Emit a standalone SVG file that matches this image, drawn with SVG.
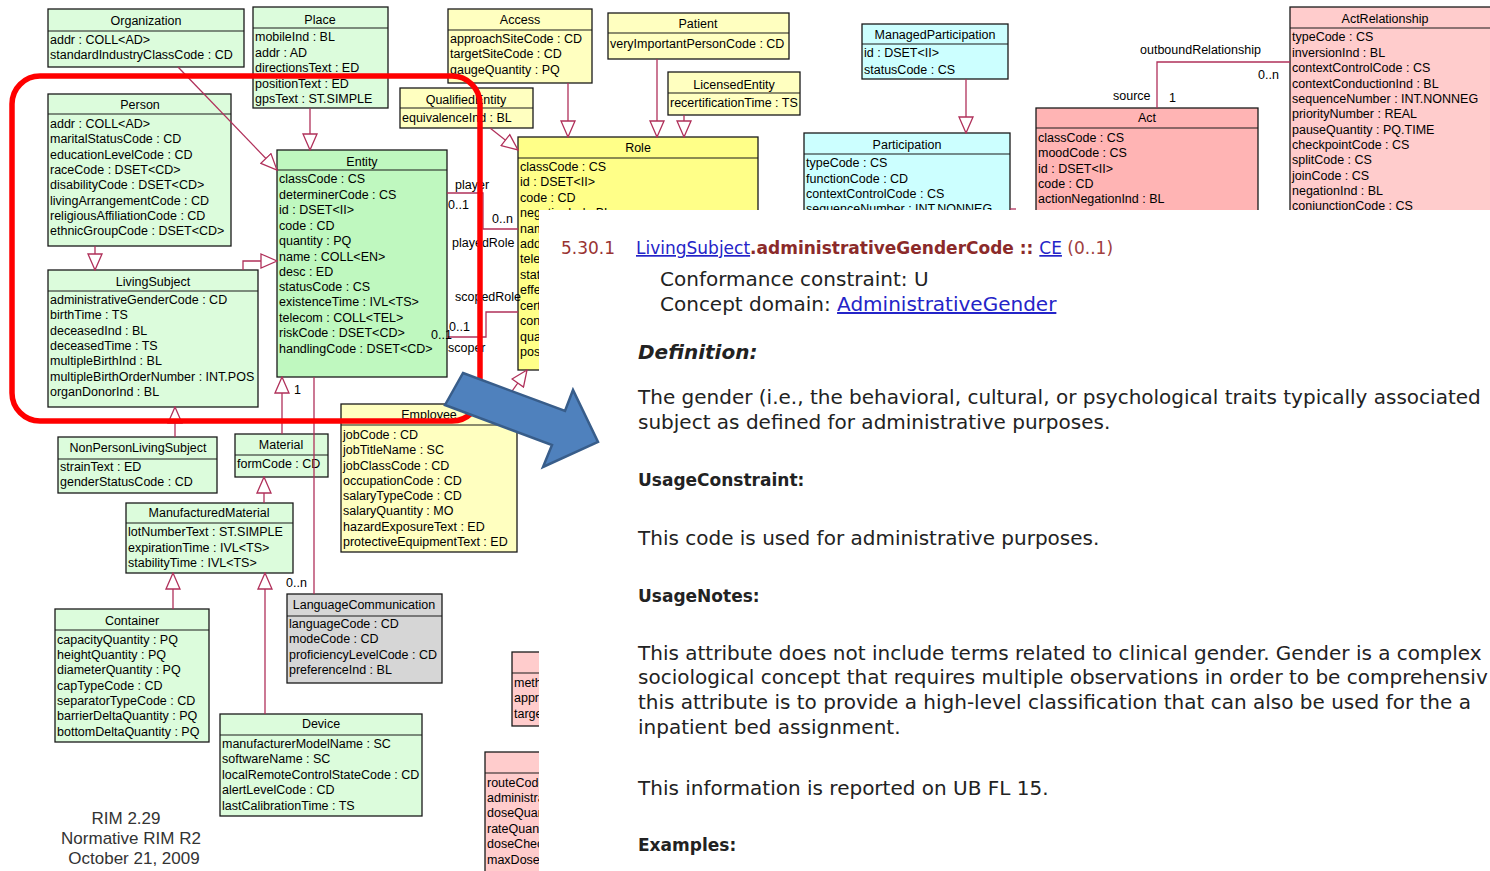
<svg xmlns="http://www.w3.org/2000/svg" width="1490" height="871" viewBox="0 0 1490 871">
<style>
.b{stroke:#1a1a1a;stroke-width:1.3}
.s{stroke:#1a1a1a;stroke-width:1.2;fill:none}
.t{font-family:"Liberation Sans",Arial,sans-serif;font-size:12.5px;fill:#000}
.h{text-anchor:middle}
.gl{fill:#dcfcdc}.ge{fill:#bff8bf}.yl{fill:#ffffc0}.yr{fill:#ffff88}.cl{fill:#ccffff}.pl{fill:#ffcccc}.pa{fill:#ffb4b4}.gr{fill:#d6d6d6}
.c{stroke:#b0305a;stroke-width:1.3;fill:none}
.lab{font-family:"Liberation Sans",Arial,sans-serif;font-size:12.5px;fill:#000}
.p{font-family:"DejaVu Sans",Verdana,sans-serif;font-size:20px;fill:#222}
.pb{font-family:"DejaVu Sans",Verdana,sans-serif;font-size:17px;font-weight:bold;fill:#222}
.lk{fill:#2424c8;text-decoration:underline;font-weight:normal}
.rim{font-family:"Liberation Sans",Arial,sans-serif;font-size:17px;fill:#333;text-anchor:middle}
</style>
<defs>
<marker id="gen" viewBox="0 0 18 16" refX="17" refY="8" markerWidth="18" markerHeight="16" markerUnits="userSpaceOnUse" orient="auto">
<path d="M1,1 L17,8 L1,15 Z" fill="#fff" stroke="#b0305a" stroke-width="1.3"/>
</marker>
<clipPath id="vis"><path d="M0,0 H1490 V210 H539 V871 H0 Z"/></clipPath>
</defs>
<rect width="1490" height="871" fill="#fff"/>
<g clip-path="url(#vis)">
<g id="organization"><rect class="b gl" x="48" y="9" width="196" height="58"/><path class="s" d="M48,31 H244"/>
<text class="t h" x="146" y="25">Organization</text>
<text class="t" x="50" y="44">addr : COLL&lt;AD&gt;</text><text class="t" x="50" y="59">standardIndustryClassCode : CD</text></g>

<g id="place"><rect class="b gl" x="253" y="7" width="135" height="101"/><path class="s" d="M253,28 H388"/>
<text class="t h" x="320" y="24">Place</text>
<text class="t" x="255" y="41">mobileInd : BL</text><text class="t" x="255" y="57">addr : AD</text><text class="t" x="255" y="72">directionsText : ED</text><text class="t" x="255" y="88">positionText : ED</text><text class="t" x="255" y="103">gpsText : ST.SIMPLE</text></g>

<g id="access"><rect class="b yl" x="448" y="9" width="144" height="74"/><path class="s" d="M448,30 H592"/>
<text class="t h" x="520" y="24">Access</text>
<text class="t" x="450" y="43">approachSiteCode : CD</text><text class="t" x="450" y="58">targetSiteCode : CD</text><text class="t" x="450" y="74">gaugeQuantity : PQ</text></g>

<g id="patient"><rect class="b yl" x="608" y="13" width="181" height="46"/><path class="s" d="M608,33 H789"/>
<text class="t h" x="698" y="28">Patient</text>
<text class="t" x="610" y="48">veryImportantPersonCode : CD</text></g>

<g id="qualifiedEntity"><rect class="b yl" x="400" y="88" width="133" height="40"/><path class="s" d="M400,108 H533"/>
<text class="t h" x="466" y="104">QualifiedEntity</text>
<text class="t" x="402" y="122">equivalenceInd : BL</text></g>

<g id="licensedEntity"><rect class="b yl" x="668" y="72" width="132" height="43"/><path class="s" d="M668,93 H800"/>
<text class="t h" x="734" y="89">LicensedEntity</text>
<text class="t" x="670" y="107">recertificationTime : TS</text></g>

<g id="managedParticipation"><rect class="b cl" x="862" y="24" width="146" height="55"/><path class="s" d="M862,44 H1008"/>
<text class="t h" x="935" y="39">ManagedParticipation</text>
<text class="t" x="864" y="57">id : DSET&lt;II&gt;</text><text class="t" x="864" y="74">statusCode : CS</text></g>

<g id="participation"><rect class="b cl" x="804" y="133" width="206" height="100"/><path class="s" d="M804,154 H1010"/>
<text class="t h" x="907" y="149">Participation</text>
<text class="t" x="806" y="167">typeCode : CS</text><text class="t" x="806" y="183">functionCode : CD</text><text class="t" x="806" y="198">contextControlCode : CS</text><text class="t" x="806" y="213">sequenceNumber : INT.NONNEG</text></g>

<g id="act"><rect class="b pa" x="1036" y="108" width="222" height="120"/><path class="s" d="M1036,128 H1258"/>
<text class="t h" x="1147" y="122">Act</text>
<text class="t" x="1038" y="142">classCode : CS</text><text class="t" x="1038" y="157">moodCode : CS</text><text class="t" x="1038" y="173">id : DSET&lt;II&gt;</text><text class="t" x="1038" y="188">code : CD</text><text class="t" x="1038" y="203">actionNegationInd : BL</text></g>

<g id="actRelationship"><rect class="b pl" x="1290" y="7" width="220" height="220"/><path class="s" d="M1290,28 H1490"/>
<text class="t h" x="1385" y="23">ActRelationship</text>
<text class="t" x="1292" y="41">typeCode : CS</text><text class="t" x="1292" y="57">inversionInd : BL</text><text class="t" x="1292" y="72">contextControlCode : CS</text><text class="t" x="1292" y="88">contextConductionInd : BL</text><text class="t" x="1292" y="103">sequenceNumber : INT.NONNEG</text><text class="t" x="1292" y="118">priorityNumber : REAL</text><text class="t" x="1292" y="134">pauseQuantity : PQ.TIME</text><text class="t" x="1292" y="149">checkpointCode : CS</text><text class="t" x="1292" y="164">splitCode : CS</text><text class="t" x="1292" y="180">joinCode : CS</text><text class="t" x="1292" y="195">negationInd : BL</text><text class="t" x="1292" y="210">conjunctionCode : CS</text></g>

<g id="role"><rect class="b yr" x="518" y="137" width="240" height="233"/><path class="s" d="M518,158 H758"/>
<text class="t h" x="638" y="152">Role</text>
<text class="t" x="520" y="171">classCode : CS</text><text class="t" x="520" y="186">id : DSET&lt;II&gt;</text><text class="t" x="520" y="202">code : CD</text><text class="t" x="520" y="217">negationInd : BL</text><text class="t" x="520" y="233">name</text><text class="t" x="520" y="248">addr</text><text class="t" x="520" y="263">telecom</text><text class="t" x="520" y="279">statusCode</text><text class="t" x="520" y="294">effectiveTime</text><text class="t" x="520" y="310">certificateText</text><text class="t" x="520" y="325">confidentialityCode</text><text class="t" x="520" y="341">quantity</text><text class="t" x="520" y="356">positionNumber</text></g>

<g id="entity"><rect class="b ge" x="277" y="150" width="170" height="227"/><path class="s" d="M277,170 H447"/>
<text class="t h" x="362" y="166">Entity</text>
<text class="t" x="279" y="183">classCode : CS</text><text class="t" x="279" y="199">determinerCode : CS</text><text class="t" x="279" y="214">id : DSET&lt;II&gt;</text><text class="t" x="279" y="230">code : CD</text><text class="t" x="279" y="245">quantity : PQ</text><text class="t" x="279" y="261">name : COLL&lt;EN&gt;</text><text class="t" x="279" y="276">desc : ED</text><text class="t" x="279" y="291">statusCode : CS</text><text class="t" x="279" y="306">existenceTime : IVL&lt;TS&gt;</text><text class="t" x="279" y="322">telecom : COLL&lt;TEL&gt;</text><text class="t" x="279" y="337">riskCode : DSET&lt;CD&gt;</text><text class="t" x="279" y="353">handlingCode : DSET&lt;CD&gt;</text></g>

<g id="person"><rect class="b gl" x="48" y="94" width="183" height="152"/><path class="s" d="M48,114 H231"/>
<text class="t h" x="140" y="109">Person</text>
<text class="t" x="50" y="128">addr : COLL&lt;AD&gt;</text><text class="t" x="50" y="143">maritalStatusCode : CD</text><text class="t" x="50" y="159">educationLevelCode : CD</text><text class="t" x="50" y="174">raceCode : DSET&lt;CD&gt;</text><text class="t" x="50" y="189">disabilityCode : DSET&lt;CD&gt;</text><text class="t" x="50" y="205">livingArrangementCode : CD</text><text class="t" x="50" y="220">religiousAffiliationCode : CD</text><text class="t" x="50" y="235">ethnicGroupCode : DSET&lt;CD&gt;</text></g>

<g id="livingSubject"><rect class="b gl" x="48" y="270" width="210" height="137"/><path class="s" d="M48,291 H258"/>
<text class="t h" x="153" y="286">LivingSubject</text>
<text class="t" x="50" y="304">administrativeGenderCode : CD</text><text class="t" x="50" y="319">birthTime : TS</text><text class="t" x="50" y="335">deceasedInd : BL</text><text class="t" x="50" y="350">deceasedTime : TS</text><text class="t" x="50" y="365">multipleBirthInd : BL</text><text class="t" x="50" y="381">multipleBirthOrderNumber : INT.POS</text><text class="t" x="50" y="396">organDonorInd : BL</text></g>

<g id="nonPersonLivingSubject"><rect class="b gl" x="58" y="437" width="159" height="56"/><path class="s" d="M58,459 H217"/>
<text class="t h" x="138" y="452">NonPersonLivingSubject</text>
<text class="t" x="60" y="471">strainText : ED</text><text class="t" x="60" y="486">genderStatusCode : CD</text></g>

<g id="material"><rect class="b gl" x="235" y="434" width="93" height="43"/><path class="s" d="M235,455 H328"/>
<text class="t h" x="281" y="449">Material</text>
<text class="t" x="237" y="468">formCode : CD</text></g>

<g id="employee"><rect class="b yl" x="341" y="404" width="176" height="148"/><path class="s" d="M341,425 H517"/>
<text class="t h" x="429" y="419">Employee</text>
<text class="t" x="343" y="439">jobCode : CD</text><text class="t" x="343" y="454">jobTitleName : SC</text><text class="t" x="343" y="470">jobClassCode : CD</text><text class="t" x="343" y="485">occupationCode : CD</text><text class="t" x="343" y="500">salaryTypeCode : CD</text><text class="t" x="343" y="515">salaryQuantity : MO</text><text class="t" x="343" y="531">hazardExposureText : ED</text><text class="t" x="343" y="546">protectiveEquipmentText : ED</text></g>

<g id="manufacturedMaterial"><rect class="b gl" x="126" y="503" width="167" height="70"/><path class="s" d="M126,523 H293"/>
<text class="t h" x="209" y="517">ManufacturedMaterial</text>
<text class="t" x="128" y="536">lotNumberText : ST.SIMPLE</text><text class="t" x="128" y="552">expirationTime : IVL&lt;TS&gt;</text><text class="t" x="128" y="567">stabilityTime : IVL&lt;TS&gt;</text></g>

<g id="container"><rect class="b gl" x="55" y="609" width="154" height="133"/><path class="s" d="M55,630 H209"/>
<text class="t h" x="132" y="625">Container</text>
<text class="t" x="57" y="644">capacityQuantity : PQ</text><text class="t" x="57" y="659">heightQuantity : PQ</text><text class="t" x="57" y="674">diameterQuantity : PQ</text><text class="t" x="57" y="690">capTypeCode : CD</text><text class="t" x="57" y="705">separatorTypeCode : CD</text><text class="t" x="57" y="720">barrierDeltaQuantity : PQ</text><text class="t" x="57" y="736">bottomDeltaQuantity : PQ</text></g>

<g id="languageCommunication"><rect class="b gr" x="287" y="594" width="155" height="89"/><path class="s" d="M287,616 H442"/>
<text class="t h" x="364" y="609">LanguageCommunication</text>
<text class="t" x="289" y="628">languageCode : CD</text><text class="t" x="289" y="643">modeCode : CD</text><text class="t" x="289" y="659">proficiencyLevelCode : CD</text><text class="t" x="289" y="674">preferenceInd : BL</text></g>

<g id="device"><rect class="b gl" x="220" y="714" width="202" height="102"/><path class="s" d="M220,735 H422"/>
<text class="t h" x="321" y="728">Device</text>
<text class="t" x="222" y="748">manufacturerModelName : SC</text><text class="t" x="222" y="763">softwareName : SC</text><text class="t" x="222" y="779">localRemoteControlStateCode : CD</text><text class="t" x="222" y="794">alertLevelCode : CD</text><text class="t" x="222" y="810">lastCalibrationTime : TS</text></g>

<g id="procedure"><rect class="b pl" x="512" y="652" width="100" height="74"/><path class="s" d="M512,673 H612"/>
<text class="t" x="514" y="687">method</text><text class="t" x="514" y="702">approach</text><text class="t" x="514" y="718">target</text></g>

<g id="substanceAdministration"><rect class="b pl" x="485" y="752" width="120" height="130"/><path class="s" d="M485,773 H605"/>
<text class="t" x="487" y="787">routeCode</text><text class="t" x="487" y="802">administration</text><text class="t" x="487" y="817">doseQuantity</text><text class="t" x="487" y="833">rateQuantity</text><text class="t" x="487" y="848">doseCheck</text><text class="t" x="487" y="864">maxDose</text></g>

<g id="connectors">
<path class="c" d="M178,67 L277,170" marker-end="url(#gen)"/>
<path class="c" d="M310,108 V150" marker-end="url(#gen)"/>
<path class="c" d="M95,246 V270" marker-end="url(#gen)"/>
<path class="c" d="M243,270 V261 H277" marker-end="url(#gen)"/>
<path class="c" d="M175,437 V407" marker-end="url(#gen)"/>
<path class="c" d="M282,434 V377" marker-end="url(#gen)"/>
<path class="c" d="M264,503 V477" marker-end="url(#gen)"/>
<path class="c" d="M173,609 V573" marker-end="url(#gen)"/>
<path class="c" d="M265,714 V573" marker-end="url(#gen)"/>
<path class="c" d="M314,377 V594"/>
<path class="c" d="M490,128 L518,150" marker-end="url(#gen)"/>
<path class="c" d="M568,83 V137" marker-end="url(#gen)"/>
<path class="c" d="M657,59 V137" marker-end="url(#gen)"/>
<path class="c" d="M684,115 V137" marker-end="url(#gen)"/>
<path class="c" d="M447,193 H483 V229 H518"/>
<path class="c" d="M447,337 H486 V312 H518"/>
<path class="c" d="M503,404 L527,370" marker-end="url(#gen)"/>
<path class="c" d="M966,79 V133" marker-end="url(#gen)"/>
<path class="c" d="M1157,108 V62 H1290"/>
<path class="c" d="M1010,209 H1016"/>
<text class="lab" x="455" y="189">player</text>
<text class="lab" x="448" y="209">0..1</text>
<text class="lab" x="492" y="223">0..n</text>
<text class="lab" x="452" y="247">playedRole</text>
<text class="lab" x="455" y="301">scopedRole</text>
<text class="lab" x="449" y="331">0..1</text>
<text class="lab" x="431" y="339">0..1</text>
<text class="lab" x="448" y="352">scoper</text>
<text class="lab" x="294" y="394">1</text>
<text class="lab" x="286" y="587">0..n</text>
<text class="lab" x="1140" y="54">outboundRelationship</text>
<text class="lab" x="1258" y="79">0..n</text>
<text class="lab" x="1113" y="100">source</text>
<text class="lab" x="1169" y="102">1</text>
</g>
</g>

<rect id="highlight" x="12" y="76" width="468" height="345" rx="28" ry="28" fill="none" stroke="#ff0000" stroke-width="5.5"/>

<g id="rim-label">
<text class="rim" x="126" y="824">RIM 2.29</text>
<text class="rim" x="131" y="844">Normative RIM R2</text>
<text class="rim" x="134" y="864">October 21, 2009</text>
</g>

<g id="detail-panel">
<rect x="539" y="210" width="951" height="661" fill="#fff"/>
<text x="561" y="254" font-family="DejaVu Sans, Verdana, sans-serif" font-size="17" fill="#993333">5.30.1</text>
<text x="636" y="254" font-family="DejaVu Sans, Verdana, sans-serif" font-size="17" fill="#8b2a2a"><tspan class="lk">LivingSubject</tspan><tspan font-weight="bold">.administrativeGenderCode :: </tspan><tspan class="lk">CE</tspan><tspan fill="#a04040"> (0..1)</tspan></text>
<text class="p" x="660" y="286">Conformance constraint: U</text>
<text class="p" x="660" y="311">Concept domain: <tspan class="lk">AdministrativeGender</tspan></text>
<text class="p" x="638" y="359" font-weight="bold" font-style="italic" font-size="19">Definition:</text>
<text class="p" x="638" y="404">The gender (i.e., the behavioral, cultural, or psychological traits typically associated</text>
<text class="p" x="638" y="429">subject as defined for administrative purposes.</text>
<text class="pb" x="638" y="486">UsageConstraint:</text>
<text class="p" x="638" y="545">This code is used for administrative purposes.</text>
<text class="pb" x="638" y="602">UsageNotes:</text>
<text class="p" x="638" y="660">This attribute does not include terms related to clinical gender. Gender is a complex</text>
<text class="p" x="638" y="684">sociological concept that requires multiple observations in order to be comprehensiv</text>
<text class="p" x="638" y="709">this attribute is to provide a high-level classification that can also be used for the a</text>
<text class="p" x="638" y="734">inpatient bed assignment.</text>
<text class="p" x="638" y="795">This information is reported on UB FL 15.</text>
<text class="pb" x="638" y="851">Examples:</text>
</g>

<g id="pointer-arrow">
<polygon points="463,373 565,411 573,390 598,442 543,467 552,445 445,405" fill="#4f81bd" stroke="#385d8a" stroke-width="2.5" stroke-linejoin="miter"/>
</g>
</svg>
